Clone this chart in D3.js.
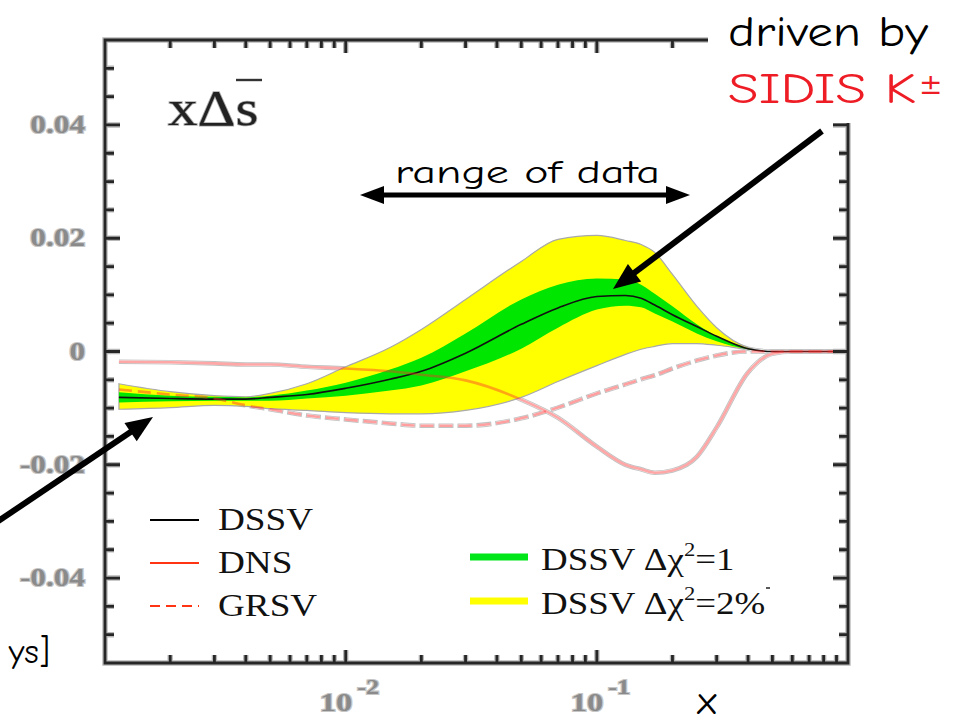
<!DOCTYPE html>
<html>
<head>
<meta charset="utf-8">
<script src="https://cdn.jsdelivr.net/npm/d3@7"></script>
<style>
  html, body { margin: 0; padding: 0; background: #fff; }
  svg { display: block; }
</style>
</head>
<body>
<svg id="chart" width="957" height="727"></svg>
<script>
// ---- data -------------------------------------------------------------
// Bjorken x grid shared by every curve
const xGrid = [0.00125, 0.002, 0.003, 0.004, 0.005, 0.007, 0.01, 0.015, 0.02, 0.03,
               0.05, 0.07, 0.1, 0.13, 0.15, 0.17, 0.2, 0.25, 0.3, 0.4, 0.5, 0.6, 0.8, 1.0];

// DSSV central fit of x*Delta s-bar
const dssv = [-0.0081, -0.0083, -0.0084, -0.0084, -0.0081, -0.0076, -0.0065, -0.0049, -0.0035, -0.0003,
              0.0048, 0.0077, 0.0097, 0.0099, 0.0094, 0.0082, 0.0065, 0.0044, 0.0027, 0.0005, 0, 0, 0, 0];

// DSSV uncertainty band, Delta chi^2 = 1
const chi1Low  = [-0.0090, -0.0088, -0.0087, -0.0087, -0.0087, -0.0083, -0.0078, -0.0069, -0.0060, -0.0035,
                  0.0005, 0.0042, 0.0074, 0.0081, 0.0078, 0.0067, 0.0053, 0.0032, 0.0018, 0.0004, 0, 0, 0, 0];
const chi1High = [-0.0072, -0.0078, -0.0080, -0.0081, -0.0078, -0.0069, -0.0055, -0.0032, -0.0011, 0.0032,
                  0.0092, 0.0118, 0.0129, 0.0127, 0.0118, 0.0102, 0.0080, 0.0048, 0.0027, 0.0005, 0, 0, 0, 0];

// DSSV uncertainty band, Delta chi^2 = 2%
const chi2Low  = [-0.0102, -0.0099, -0.0095, -0.0097, -0.0101, -0.0104, -0.0108, -0.0110, -0.0110, -0.0104,
                  -0.0081, -0.0053, -0.0025, -0.0005, 0.0004, 0.0009, 0.0014, 0.0014, 0.0011, 0.0004, 0, 0, 0, 0];
const chi2High = [-0.0057, -0.0071, -0.0078, -0.0080, -0.0074, -0.0057, -0.0027, 0.0007, 0.0039, 0.0092,
                  0.0159, 0.0198, 0.0205, 0.0196, 0.0189, 0.0175, 0.0136, 0.0080, 0.0042, 0.0007, 0, 0, 0, 0];

// DNS fit
const dns  = [-0.0018, -0.0019, -0.0021, -0.0023, -0.0023, -0.0027, -0.0030, -0.0035, -0.0041, -0.0051,
              -0.0085, -0.0117, -0.0168, -0.0200, -0.0208, -0.0214, -0.0210, -0.0186, -0.0134, -0.0037, -0.0004, 0, 0, 0];

// GRSV fit
const grsv = [-0.0067, -0.0076, -0.0083, -0.0095, -0.0102, -0.0113, -0.0120, -0.0127, -0.0131, -0.0131,
              -0.0118, -0.0099, -0.0074, -0.0058, -0.0049, -0.0042, -0.0030, -0.0016, -0.0007, 0, 0, 0, 0, 0];

// axis ticks
const yMajorTicks  = [0.04, 0.02, 0, -0.02, -0.04];
const yTickLabels  = ["0.04", "0.02", "0", "-0.02", "-0.04"];
const xMajorTicks  = [0.01, 0.1];
const xTickExps    = ["-2", "-1"];

// legend entries
const lineLegend = ["DSSV", "DNS", "GRSV"];
const bandLegend = ["1", "2%"];

// ---- layout -----------------------------------------------------------
const svg = d3.select("#chart");
const x = d3.scaleLog().domain([0.0011, 1]).range([105, 848]);
const y = d3.scaleLinear().domain([-0.055, 0.055]).range([663, 40]);
const X0 = x.range()[0], X1 = x.range()[1];
const YB = y.range()[0], YT = y.range()[1];

const pts = vals => xGrid.map((xv, i) => [xv, vals[i]]);
const line = d3.line().x(d => x(d[0])).y(d => y(d[1])).curve(d3.curveMonotoneX);
const band = (lo, hi) => d3.area()
  .x((d, i) => x(xGrid[i]))
  .y0((d, i) => y(lo[i]))
  .y1((d, i) => y(hi[i]))
  .curve(d3.curveMonotoneX)(xGrid);

const serif = "'Liberation Serif', 'Times New Roman', serif";
const comic = "'Comic Sans MS', 'Comic Neue', 'DejaVu Sans', sans-serif";

// ---- curves -----------------------------------------------------------
const curves = svg.append("g");
const curveSet = [
  { vals: dssv, dash: null },
  { vals: dns,  dash: null },
  { vals: grsv, dash: "13,6" }
];
// thin grey outline, then a white body, so curves read as outlined strokes on white
curveSet.forEach(c => {
  curves.append("path").attr("d", line(pts(c.vals)))
    .attr("fill", "none").attr("stroke", "#c2c2c2").attr("stroke-width", 4.6)
    .attr("stroke-dasharray", c.dash ? "15,4" : null).attr("stroke-dashoffset", c.dash ? 1 : null);
});
curveSet.forEach(c => {
  curves.append("path").attr("d", line(pts(c.vals)))
    .attr("fill", "none").attr("stroke", "#fff").attr("stroke-width", 2.8)
    .attr("stroke-dasharray", c.dash);
});
// uncertainty bands
curves.append("path").attr("d", band(chi2Low, chi2High))
  .attr("fill", "#ffff00").attr("stroke", "#a9a9a9").attr("stroke-width", 1.2);
curves.append("path").attr("d", band(chi1Low, chi1High))
  .attr("fill", "#00e600").attr("stroke", "none");
// curve bodies
curves.append("path").attr("d", line(pts(dssv)))
  .attr("fill", "none").attr("stroke", "#111").attr("stroke-width", 1.6);
curves.append("path").attr("d", line(pts(dns)))
  .attr("fill", "none").attr("stroke", "#ff2a2a").attr("stroke-opacity", 0.42).attr("stroke-width", 2.6);
curves.append("path").attr("d", line(pts(grsv)))
  .attr("fill", "none").attr("stroke", "#ff2a2a").attr("stroke-opacity", 0.45).attr("stroke-width", 2.6)
  .attr("stroke-dasharray", "13,6");

// ---- frame and ticks --------------------------------------------------
const xMinor = [];
[-3, -2, -1].forEach(k => d3.range(2, 10).forEach(m => {
  const v = m * Math.pow(10, k);
  if (v > 0.0011 && v < 0.99) xMinor.push(v);
}));
const yMinor = d3.range(-0.05, 0.0501, 0.005).map(v => +v.toFixed(3))
  .filter(v => !yMajorTicks.some(t => Math.abs(t - v) < 1e-6));

// one path holding the border and all inward tick marks
let framePath = `M${X0},${YT}H${X1}V${YB}H${X0}Z`;
const addX = (vals, len) => vals.forEach(v => {
  const px = x(v);
  framePath += `M${px},${YB}v${-len}M${px},${YT}v${len}`;
});
const addY = (vals, len) => vals.forEach(v => {
  const py = y(v);
  framePath += `M${X0},${py}h${len}M${X1},${py}h${-len}`;
});
addX(xMinor, 8); addX(xMajorTicks, 13);
addY(yMinor, 9); addY(yMajorTicks, 15);

const frame = svg.append("g");
frame.append("path").attr("d", framePath)
  .attr("fill", "none").attr("stroke", "#b8b8b8").attr("stroke-width", 5.4);
frame.append("path").attr("d", framePath)
  .attr("fill", "none").attr("stroke", "#262626").attr("stroke-width", 2.8);

// tick labels: grey serif figures with a light outline
const tickStyle = sel => sel.attr("font-family", serif).attr("font-weight", "bold")
  .attr("fill", "#8a8a8a").attr("stroke", "#c6c6c6").attr("stroke-width", 2.2)
  .attr("paint-order", "stroke");

yMajorTicks.forEach((v, i) => {
  svg.append("text").text(yTickLabels[i])
    .attr("transform", `translate(85,${y(v) + 8}) scale(1.25,1)`)
    .attr("text-anchor", "end").attr("font-size", 25).call(tickStyle);
});
xMajorTicks.forEach((v, i) => {
  const t = svg.append("text")
    .attr("transform", `translate(${x(v) - 26},711) scale(1.25,1)`)
    .attr("font-size", 26).call(tickStyle);
  t.append("tspan").text("10");
  t.append("tspan").text(xTickExps[i]).attr("font-size", 21).attr("dx", 4).attr("dy", -17);
});

// panel label x * Delta s-bar
svg.append("text")
  .attr("transform", "translate(168,125) scale(1.18,1)")
  .attr("font-family", serif).attr("font-size", 50).attr("fill", "#222")
  .attr("stroke", "#aaa").attr("stroke-width", 1.5).attr("paint-order", "stroke")
  .text("x\u0394s");
svg.append("line").attr("x1", 236).attr("x2", 262).attr("y1", 80).attr("y2", 80)
  .attr("stroke", "#333").attr("stroke-width", 2.4);

// ---- legend -----------------------------------------------------------
const leg = svg.append("g");
const legY = [520, 563, 606];
lineLegend.forEach((name, i) => {
  leg.append("line").attr("x1", 150).attr("x2", 199).attr("y1", legY[i]).attr("y2", legY[i])
    .attr("stroke", i === 0 ? "#000" : "#ff3412").attr("stroke-width", 2.2)
    .attr("stroke-dasharray", i === 2 ? "10,6" : null);
  leg.append("text").text(name)
    .attr("transform", `translate(218,${legY[i] + 10}) scale(1.2,1)`)
    .attr("font-family", serif).attr("font-size", 31).attr("fill", "#111");
});
const bandColors = ["#00e619", "#ffff00"];
const bandY = [557, 601];
bandLegend.forEach((val, i) => {
  leg.append("rect").attr("x", 470).attr("y", bandY[i] - 3.5).attr("width", 58).attr("height", 7)
    .attr("fill", bandColors[i]);
  const t = leg.append("text")
    .attr("transform", `translate(541,${bandY[i] + 13}) scale(1.19,1)`)
    .attr("font-family", serif).attr("font-size", 31).attr("fill", "#111");
  t.append("tspan").text("DSSV \u0394\u03c7");
  t.append("tspan").text("2").attr("font-size", 19).attr("dy", -14);
  t.append("tspan").text("=" + val).attr("dy", 14);
});
leg.append("line").attr("x1", 766).attr("x2", 770).attr("y1", 588).attr("y2", 588)
  .attr("stroke", "#222").attr("stroke-width", 1.5);

// ---- annotations ------------------------------------------------------
const ann = svg.append("g");
ann.append("rect").attr("x", 708).attr("y", 0).attr("width", 249).attr("height", 123).attr("fill", "#fff");

function arrow(xa, ya, xb, yb2, w, headLen, headHalf, both) {
  const dx = xb - xa, dy = yb2 - ya, len = Math.hypot(dx, dy);
  const ux = dx / len, uy = dy / len, nx = -uy, ny = ux;
  const head = (tx, ty, sx, sy) => {
    const bx = tx - sx * headLen, by = ty - sy * headLen;
    return [[tx, ty], [bx + nx * headHalf, by + ny * headHalf], [bx - nx * headHalf, by - ny * headHalf]];
  };
  const s0 = both ? headLen * 0.8 : 0;
  ann.append("line")
    .attr("x1", xa + ux * s0).attr("y1", ya + uy * s0)
    .attr("x2", xb - ux * headLen * 0.8).attr("y2", yb2 - uy * headLen * 0.8)
    .attr("stroke", "#000").attr("stroke-width", w);
  ann.append("polygon").attr("points", head(xb, yb2, ux, uy).join(" ")).attr("fill", "#000");
  if (both) ann.append("polygon").attr("points", head(xa, ya, -ux, -uy).join(" ")).attr("fill", "#000");
}
arrow(822, 131, 613, 289, 6, 27, 11, false);
arrow(-12, 528, 153, 417, 6, 27, 11, false);
arrow(360, 195, 690, 195, 5, 24, 9, true);

ann.append("text").text("range of data")
  .attr("x", 395).attr("y", 183).attr("font-family", comic).attr("font-size", 32)
  .attr("textLength", 265).attr("lengthAdjust", "spacingAndGlyphs").attr("fill", "#000");
ann.append("text").text("driven by")
  .attr("x", 728).attr("y", 46).attr("font-family", comic).attr("font-size", 43)
  .attr("textLength", 200).attr("lengthAdjust", "spacingAndGlyphs").attr("fill", "#000");
ann.append("text").text("SIDIS K")
  .attr("x", 728).attr("y", 103).attr("font-family", comic).attr("font-size", 42)
  .attr("textLength", 188).attr("lengthAdjust", "spacingAndGlyphs").attr("fill", "#ee1c25");
ann.append("text").text("\u00b1")
  .attr("x", 919).attr("y", 94).attr("font-family", "'DejaVu Sans', sans-serif").attr("font-size", 28)
  .attr("fill", "#ee1c25");
ann.append("text").text("x")
  .attr("x", 707).attr("y", 714).attr("text-anchor", "middle")
  .attr("font-family", comic).attr("font-size", 40).attr("fill", "#000");
ann.append("text").text("ys]")
  .attr("x", 50).attr("y", 663).attr("text-anchor", "end")
  .attr("font-family", comic).attr("font-size", 35).attr("fill", "#000");
</script>
</body>
</html>
